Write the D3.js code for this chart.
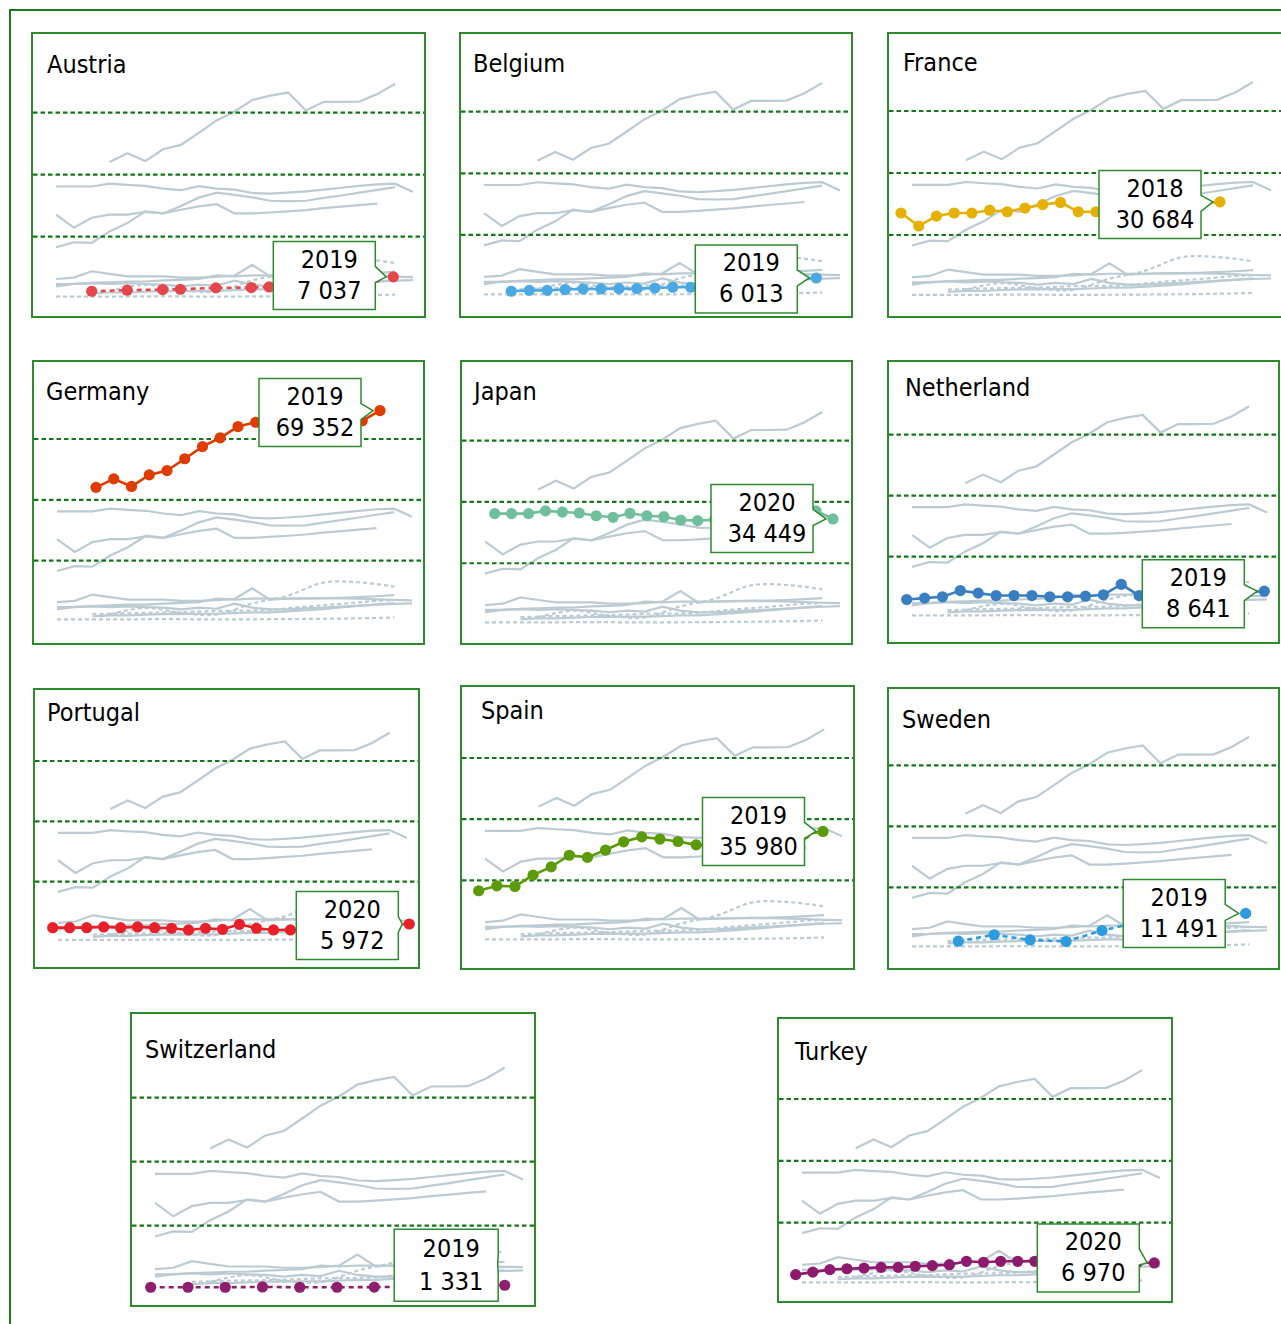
<!DOCTYPE html>
<html>
<head>
<meta charset="utf-8">
<script src="https://cdn.jsdelivr.net/npm/d3@7"></script>
<style>
  body { margin: 0; background: #fff; }
  svg { display: block; }
  text { font-family: "DejaVu Sans Condensed", "DejaVu Sans", sans-serif; font-stretch: condensed; fill: #000; }
</style>
</head>
<body>
<svg id="chart"></svg>
<script>
const WIDTH = 1281;
const HEIGHT = 1324;

const GREY = "#bccbd3";
const GRID_GREEN = "#15771a";
const BORDER_GREEN = "#2d8a2d";

// ---- data ----
const COUNTRIES = ["Austria", "Belgium", "France", "Germany", "Japan", "Netherland",
  "Portugal", "Spain", "Sweden", "Switzerland", "Turkey"];

const austriaYears = [2002, 2004, 2006, 2007, 2009, 2011, 2012, 2014, 2016, 2018, 2019];
const austriaValues = [2400, 2750, 2950, 3050, 3500, 3600, 3800, 4900, 5800, 6800, 7037];

const belgiumYears = [2002, 2003, 2004, 2005, 2006, 2007, 2008, 2009, 2010, 2011, 2012,
  2013, 2014, 2015, 2016, 2017, 2018, 2019];
const belgiumValues = [1700, 2000, 2000, 2250, 2450, 2450, 2550, 2550, 2750, 3000, 3000,
  3300, 3700, 4100, 4600, 5100, 5600, 6013];

const franceYears = [2000, 2001, 2002, 2003, 2004, 2005, 2006, 2007, 2008, 2009, 2010,
  2011, 2012, 2013, 2014, 2015, 2016, 2017, 2018];
const franceValues = [27100, 22900, 26100, 27100, 27100, 28000, 27500, 28700, 29800, 30500,
  27500, 27500, 27800, 28200, 28600, 29200, 29700, 30200, 30684];

const germanyYears = [2003, 2004, 2005, 2006, 2007, 2008, 2009, 2010, 2011, 2012, 2013,
  2014, 2015, 2016, 2017, 2018, 2019];
const germanyValues = [44100, 46900, 44400, 48200, 49600, 53500, 57500, 60400, 64100, 65500,
  66500, 60700, 63500, 63500, 63600, 66000, 69352];

const japanYears = [2000, 2001, 2002, 2003, 2004, 2005, 2006, 2007, 2008, 2009, 2010,
  2011, 2012, 2013, 2014, 2015, 2016, 2017, 2018, 2019, 2020];
const japanValues = [36200, 36200, 36200, 37100, 36700, 36400, 35500, 35000, 36300, 35500,
  35200, 34100, 33900, 34200, 34600, 35200, 35800, 36400, 36900, 37100, 34449];

const netherlandYears = [1999, 2000, 2001, 2002, 2003, 2004, 2005, 2006, 2007, 2008, 2009,
  2010, 2011, 2012, 2013, 2014, 2015, 2016, 2017, 2018, 2019];
const netherlandValues = [5900, 6350, 6800, 8850, 8000, 7200, 7200, 7200, 6800, 6800, 7000,
  7450, 10900, 7200, 7500, 7600, 7700, 7800, 8000, 8300, 8641];

const portugalYears = [1999, 2000, 2001, 2002, 2003, 2004, 2005, 2006, 2007, 2008, 2009,
  2010, 2011, 2012, 2013, 2014, 2015, 2016, 2017, 2018, 2019, 2020];
const portugalValues = [4750, 4750, 4750, 5000, 4750, 5000, 4750, 4550, 4000, 4550, 4200,
  5850, 4550, 4000, 4000, 4300, 4600, 4900, 5200, 5500, 5800, 5972];

const spainYears = [2000, 2001, 2002, 2003, 2004, 2005, 2006, 2007, 2008, 2009, 2010,
  2011, 2012, 2013, 2014, 2015, 2016, 2017, 2018, 2019];
const spainValues = [16600, 18200, 18000, 21700, 24400, 28200, 27500, 29900, 32600, 34200,
  33500, 32700, 31600, 31500, 31600, 32500, 33300, 34200, 35100, 35980];

const swedenYears = [2003, 2005, 2007, 2009, 2011, 2013, 2015, 2017, 2019];
const swedenValues = [2400, 4500, 2800, 2300, 5900, 8500, 12800, 12900, 11491];

const switzerlandYears = [2000, 2002, 2004, 2006, 2008, 2010, 2012, 2014, 2016, 2018, 2019];
const switzerlandValues = [700, 700, 700, 800, 700, 700, 750, 850, 950, 1150, 1331];

const turkeyYears = [1999, 2000, 2001, 2002, 2003, 2004, 2005, 2006, 2007, 2008, 2009,
  2010, 2011, 2012, 2013, 2014, 2015, 2016, 2017, 2018, 2019, 2020];
const turkeyValues = [3200, 4000, 4800, 5100, 5300, 5550, 5550, 5900, 6100, 6400, 7500,
  7200, 7500, 7500, 7500, 7600, 7700, 7600, 7500, 7300, 7100, 6970];

const GRID_VALUES = [20000, 40000, 60000];
const BACK_YEARS = [2000, 2020];

// ---- styles ----
const COLORS = {
  Austria: "#e5464c", Belgium: "#4aa8e2", France: "#e6b000", Germany: "#e03c00",
  Japan: "#6fbf9c", Netherland: "#3a7ec2", Portugal: "#e8202a", Spain: "#5b9a08",
  Sweden: "#2e9be0", Switzerland: "#8e1f6f", Turkey: "#8e1a6e"
};
const DASHED = ["Austria", "Sweden", "Switzerland"];
const SMOOTH_GREY = ["Sweden"];

// ---- panel layout ----
const PANELS = [
  { name: "Austria", x: 32, y: 33, w: 393, h: 284, y0: 298.7, y60: 112.7, hx: [91.7, 393.3], title: [15, 40], call: [-18, -1.5] },
  { name: "Belgium", x: 460, y: 33, w: 392, h: 284, y0: 296.5, y60: 111.7, hx: [511.3, 816.3], title: [13, 39], call: [-19, 1] },
  { name: "France", x: 888, y: 33, w: 395, h: 284, y0: 297, y60: 111, hx: [901, 1220], title: [15, 38], call: [-19, 2.5] },
  { name: "Germany", x: 33, y: 361, w: 391, h: 283, y0: 621.5, y60: 439, hx: [96, 380], title: [13, 39], call: [-19, 2] },
  { name: "Japan", x: 461, y: 361, w: 391, h: 283, y0: 624.5, y60: 440.7, hx: [494.7, 833], title: [13, 39], call: [-20, -0.5] },
  { name: "Netherland", x: 888, y: 361, w: 391, h: 282, y0: 617.5, y60: 434.7, hx: [906.7, 1264.3], title: [17, 35], call: [-20, 2.5] },
  { name: "Portugal", x: 34, y: 689, w: 385, h: 279, y0: 942, y60: 761, hx: [52.7, 409.3], title: [13, 32], call: [-11, 1.5] },
  { name: "Spain", x: 461, y: 686, w: 393, h: 283, y0: 941.5, y60: 758, hx: [478.7, 823], title: [20, 33], call: [-18.5, 0] },
  { name: "Sweden", x: 888, y: 688, w: 391, h: 281, y0: 948.5, y60: 765.3, hx: [958.3, 1245.7], title: [14, 40], call: [-20.5, 0] },
  { name: "Switzerland", x: 131, y: 1013, w: 404, h: 293, y0: 1289.5, y60: 1097.7, hx: [150.7, 504.7], title: [14, 45], call: [-6.5, -20], box: [104, 72], tip: -22 },
  { name: "Turkey", x: 778, y: 1018, w: 394, h: 284, y0: 1284.5, y60: 1099, hx: [795.7, 1154.3], title: [17, 42], call: [-15, -5] }
];

const series = [
  { name: "Austria", years: austriaYears, values: austriaValues },
  { name: "Belgium", years: belgiumYears, values: belgiumValues },
  { name: "France", years: franceYears, values: franceValues },
  { name: "Germany", years: germanyYears, values: germanyValues },
  { name: "Japan", years: japanYears, values: japanValues },
  { name: "Netherland", years: netherlandYears, values: netherlandValues },
  { name: "Portugal", years: portugalYears, values: portugalValues },
  { name: "Spain", years: spainYears, values: spainValues },
  { name: "Sweden", years: swedenYears, values: swedenValues },
  { name: "Switzerland", years: switzerlandYears, values: switzerlandValues },
  { name: "Turkey", years: turkeyYears, values: turkeyValues }
];

const NUMBER = d3.formatLocale({ decimal: ",", thousands: " ", grouping: [3], currency: ["", ""] }).format(",d");

function points(s) {
  return s.years.map((yr, i) => ({ year: yr, value: s.values[i] }));
}

function drawBackground(g, p, y) {
  const x = d3.scaleLinear().domain(BACK_YEARS).range([p.x + 24, p.x + p.w - 12]);

  series.filter(s => s.name !== p.name).forEach(s => {
    const line = d3.line()
      .x(d => x(d.year))
      .y(d => y(d.value))
      .curve(SMOOTH_GREY.includes(s.name) ? d3.curveCatmullRom : d3.curveLinear);

    g.append("path")
      .attr("d", line(points(s).filter(d => d.year >= BACK_YEARS[0])))
      .attr("fill", "none")
      .attr("stroke", GREY)
      .attr("stroke-width", 2.2)
      .attr("stroke-dasharray", DASHED.includes(s.name) ? "4,3" : null);
  });
}

function drawGrid(g, p, y) {
  g.selectAll("line.grid")
    .data(GRID_VALUES)
    .enter()
    .append("line")
    .attr("class", "grid")
    .attr("x1", p.x + 1)
    .attr("x2", p.x + p.w - 1)
    .attr("y1", d => y(d))
    .attr("y2", d => y(d))
    .attr("stroke", GRID_GREEN)
    .attr("stroke-width", 2.2)
    .attr("stroke-dasharray", "4.5,3");
}

function drawMain(g, p, y, s) {
  const pts = points(s);
  const x = d3.scaleLinear()
    .domain([pts[0].year, pts[pts.length - 1].year])
    .range(p.hx);
  const color = COLORS[s.name];

  g.append("path")
    .attr("d", d3.line().x(d => x(d.year)).y(d => y(d.value))(pts))
    .attr("fill", "none")
    .attr("stroke", color)
    .attr("stroke-width", 2.6)
    .attr("stroke-dasharray", DASHED.includes(s.name) ? "5,4" : null);

  g.selectAll("circle")
    .data(pts)
    .enter()
    .append("circle")
    .attr("cx", d => x(d.year))
    .attr("cy", d => y(d.value))
    .attr("r", 5.6)
    .attr("fill", color);

  const last = pts[pts.length - 1];
  return { x: x(last.year), y: y(last.value), d: last };
}

function drawCallout(g, p, dot) {
  const [bw, bh] = p.box || [102, 68];
  const right = dot.x + p.call[0];
  const cy = dot.y + p.call[1];
  const left = right - bw;
  const top = cy - bh / 2;
  const bottom = cy + bh / 2;
  const tipX = dot.x - 7;
  const tipY = p.tip !== undefined ? dot.y + p.tip : dot.y;

  const path = d3.path();
  path.moveTo(left, top);
  path.lineTo(right, top);
  path.lineTo(right, cy - 9);
  path.lineTo(tipX, tipY);
  path.lineTo(right, cy + 7);
  path.lineTo(right, bottom);
  path.lineTo(left, bottom);
  path.closePath();

  g.append("path")
    .attr("d", path.toString())
    .attr("fill", "#fff")
    .attr("stroke", BORDER_GREEN)
    .attr("stroke-width", 1.5);

  const tx = (left + right) / 2 + 5;
  g.append("text")
    .attr("x", tx)
    .attr("y", top + bh * 0.39)
    .attr("text-anchor", "middle")
    .attr("font-size", 25)
    .text(dot.d.year);
  g.append("text")
    .attr("x", tx)
    .attr("y", top + bh * 0.845)
    .attr("text-anchor", "middle")
    .attr("font-size", 25)
    .text(NUMBER(dot.d.value));
}

function drawPanel($svg, p) {
  const s = series.find(d => d.name === p.name);
  const g = $svg.append("g");
  const y = d3.scaleLinear().domain([0, 60000]).range([p.y0, p.y60]);

  g.append("rect")
    .attr("x", p.x)
    .attr("y", p.y)
    .attr("width", p.w)
    .attr("height", p.h)
    .attr("fill", "#fff")
    .attr("stroke", BORDER_GREEN)
    .attr("stroke-width", 2);

  drawBackground(g, p, y);
  drawGrid(g, p, y);
  const dot = drawMain(g, p, y, s);
  drawCallout(g, p, dot);

  g.append("text")
    .attr("x", p.x + p.title[0])
    .attr("y", p.y + p.title[1])
    .attr("font-size", 25)
    .text(p.name);
}

const $svg = d3.select("#chart").attr("width", WIDTH).attr("height", HEIGHT);

$svg.append("rect")
  .attr("x", 10)
  .attr("y", 10)
  .attr("width", 1400)
  .attr("height", 1400)
  .attr("fill", "none")
  .attr("stroke", "#1b7a1b")
  .attr("stroke-width", 2);

PANELS.forEach(p => drawPanel($svg, p));
</script>
</body>
</html>
